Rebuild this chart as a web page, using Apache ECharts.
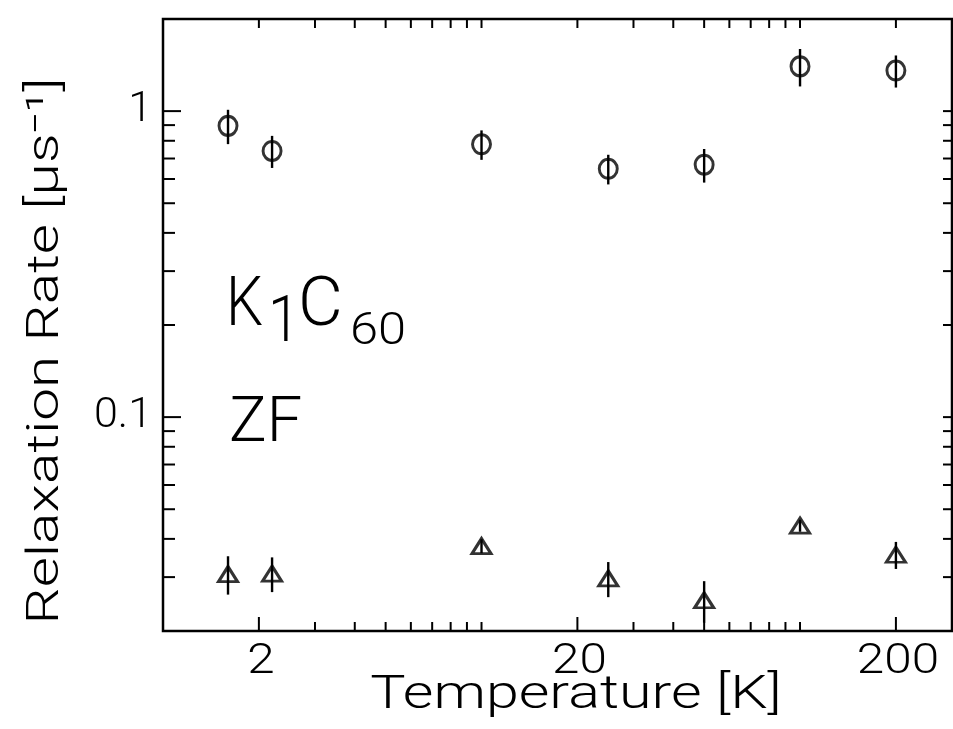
<!DOCTYPE html>
<html><head><meta charset="utf-8">
<script src="https://cdn.jsdelivr.net/npm/echarts@6/dist/echarts.min.js"></script>
<style>html,body{margin:0;padding:0;background:#fff}#c{width:953px;height:729px}</style>
</head><body><div id="c"></div>
<script>
// ---- data ----
const temperatures = [1.6, 2.2, 10, 25, 50, 100, 200];
const rateCircle   = [0.895, 0.741, 0.779, 0.648, 0.668, 1.40, 1.357];
const errCircle    = [0.115, 0.089, 0.086, 0.072, 0.084, 0.196, 0.163];
const rateTriangle = [0.0307, 0.0308, 0.0379, 0.0297, 0.0252, 0.0442, 0.0355];
const errTriangle  = [0.0044, 0.0040, 0.0020, 0.0039, 0.0039, 0.0020, 0.0036];

const xMajorTicks = [2, 20, 200];
const xMinorTicks = [3, 4, 5, 6, 7, 8, 9, 10, 30, 40, 50, 60, 70, 80, 90, 100];
const xTickLabels = [2, 20, 200];
const yMajorTicks = [0.1, 1];
const yMinorTicks = [0.03, 0.04, 0.05, 0.06, 0.07, 0.08, 0.09, 0.2, 0.3, 0.4, 0.5, 0.6, 0.7, 0.8, 0.9];
const yTickLabels = [0.1, 1];
const xMin = 1, xMax = 300, yMin = 0.02, yMax = 2;

// ---- chart ----
const FONT = 'Roboto';
const FW = 300;
const chart = echarts.init(document.getElementById('c'));

function xTickSeries(values, bottomLen, topLen) {
  return {
    type: 'custom', coordinateSystem: 'cartesian2d', silent: true, clip: false, z: 5,
    data: values.map(v => [v, yMin]),
    renderItem: (params, api) => {
      const v = api.value(0);
      const b = api.coord([v, yMin]), t = api.coord([v, yMax]);
      return { type: 'group', children: [
        { type: 'line', shape: { x1: b[0], y1: b[1], x2: b[0], y2: b[1] - bottomLen }, style: { stroke: '#000', lineWidth: 2 } },
        { type: 'line', shape: { x1: t[0], y1: t[1], x2: t[0], y2: t[1] + topLen }, style: { stroke: '#000', lineWidth: 2 } }
      ]};
    }
  };
}
function yTickSeries(values, leftLen, rightLen) {
  return {
    type: 'custom', coordinateSystem: 'cartesian2d', silent: true, clip: false, z: 5,
    data: values.map(v => [xMin, v]),
    renderItem: (params, api) => {
      const v = api.value(1);
      const l = api.coord([xMin, v]), r = api.coord([xMax, v]);
      return { type: 'group', children: [
        { type: 'line', shape: { x1: l[0], y1: l[1], x2: l[0] + leftLen, y2: l[1] }, style: { stroke: '#000', lineWidth: 2 } },
        { type: 'line', shape: { x1: r[0], y1: r[1], x2: r[0] - rightLen, y2: r[1] }, style: { stroke: '#000', lineWidth: 2 } }
      ]};
    }
  };
}
function errorBarSeries(rates, errs) {
  return {
    type: 'custom', coordinateSystem: 'cartesian2d', silent: true, z: 3,
    data: temperatures.map((t, i) => [t, rates[i], errs[i]]),
    renderItem: (params, api) => {
      const t = api.value(0), v = api.value(1), e = api.value(2);
      const lo = api.coord([t, v - e]), hi = api.coord([t, v + e]);
      return { type: 'line', shape: { x1: lo[0], y1: lo[1], x2: hi[0], y2: hi[1] }, style: { stroke: '#000', lineWidth: 2.4 } };
    }
  };
}

const option = {
  animation: false,
  backgroundColor: '#fff',
  grid: { left: 163, right: 1, top: 19, bottom: 98, show: true, borderColor: '#000', borderWidth: 2.5, backgroundColor: 'transparent' },
  xAxis: { type: 'log', logBase: 10, min: xMin, max: xMax,
    axisLine: { show: false }, axisTick: { show: false }, axisLabel: { show: false }, splitLine: { show: false }, minorTick: {show:false} },
  yAxis: { type: 'log', logBase: 10, min: yMin, max: yMax,
    axisLine: { show: false }, axisTick: { show: false }, axisLabel: { show: false }, splitLine: { show: false }, minorTick: {show:false} },
  series: [
    xTickSeries(xMajorTicks, 14, 9),
    xTickSeries(xMinorTicks, 9, 9),
    yTickSeries(yMajorTicks, 18, 9),
    yTickSeries(yMinorTicks, 12, 9),
    { // x tick labels
      type: 'custom', coordinateSystem: 'cartesian2d', silent: true, clip: false,
      data: xTickLabels.map(v => [v, yMin]),
      renderItem: (params, api) => {
        const v = api.value(0);
        const p = api.coord([v, yMin]);
        return { type: 'text', x: p[0] + 2, y: p[1] + 10, scaleX: 1.15,
          style: { text: String(v), fontFamily: FONT, fontWeight: FW, fontSize: 43, fill: '#000', align: 'center', verticalAlign: 'top' } };
      }
    },
    { // y tick labels
      type: 'custom', coordinateSystem: 'cartesian2d', silent: true, clip: false,
      data: yTickLabels.map(v => [xMin, v]),
      renderItem: (params, api) => {
        const v = api.value(1);
        const p = api.coord([xMin, v]);
        return { type: 'text', x: p[0] - 11, y: p[1] - 1,
          style: { text: String(v), fontFamily: FONT, fontWeight: FW, fontSize: 43, fill: '#000', align: 'right', verticalAlign: 'middle' } };
      }
    },
    errorBarSeries(rateCircle, errCircle),
    errorBarSeries(rateTriangle, errTriangle),
    { type: 'scatter', name: 'circle', symbol: 'circle', symbolSize: [18, 19], z: 4,
      data: temperatures.map((t, i) => [t, rateCircle[i]]),
      itemStyle: { color: 'rgba(0,0,0,0)', borderColor: '#000', borderWidth: 3 }, emphasis: { disabled: true } },
    { type: 'scatter', name: 'triangle', symbol: 'triangle', symbolSize: [19, 15], z: 4,
      data: temperatures.map((t, i) => [t, rateTriangle[i]]),
      itemStyle: { color: 'rgba(0,0,0,0)', borderColor: '#000', borderWidth: 3 }, emphasis: { disabled: true } }
  ],
  graphic: [
    { type: 'text', x: 576, y: 696, scaleX: 1.26, style: { text: 'Temperature [K]', fontFamily: FONT, fontWeight: FW, fontSize: 47, fill: '#000', align: 'center', verticalAlign: 'middle' } },
    { type: 'text', x: 47, y: 351, rotation: Math.PI / 2, scaleX: 1.3, style: { text: 'Relaxation Rate [\u03bcs\u207b\u00b9]', fontFamily: FONT, fontWeight: FW, fontSize: 45, fill: '#000', align: 'center', verticalAlign: 'middle' } },
    { type: 'text', x: 226, y: 308, scaleX: 0.85, style: { text: 'K', fontFamily: FONT, fontWeight: FW, fontSize: 69, fill: '#000', align: 'left', verticalAlign: 'middle' } },
    { type: 'text', x: 268, y: 325, scaleX: 0.9, style: { text: '1', fontFamily: FONT, fontWeight: FW, fontSize: 64, fill: '#000', align: 'left', verticalAlign: 'middle' } },
    { type: 'text', x: 298, y: 308, style: { text: 'C', fontFamily: FONT, fontWeight: FW, fontSize: 69, fill: '#000', align: 'left', verticalAlign: 'middle' } },
    { type: 'text', x: 350, y: 333, scaleX: 1.15, style: { text: '60', fontFamily: FONT, fontWeight: FW, fontSize: 44, fill: '#000', align: 'left', verticalAlign: 'middle' } },
    { type: 'text', x: 229, y: 425, style: { text: 'ZF', fontFamily: FONT, fontWeight: FW, fontSize: 63, fill: '#000', align: 'left', verticalAlign: 'middle' } }
  ]
};
chart.setOption(option);
</script>
</body></html>
